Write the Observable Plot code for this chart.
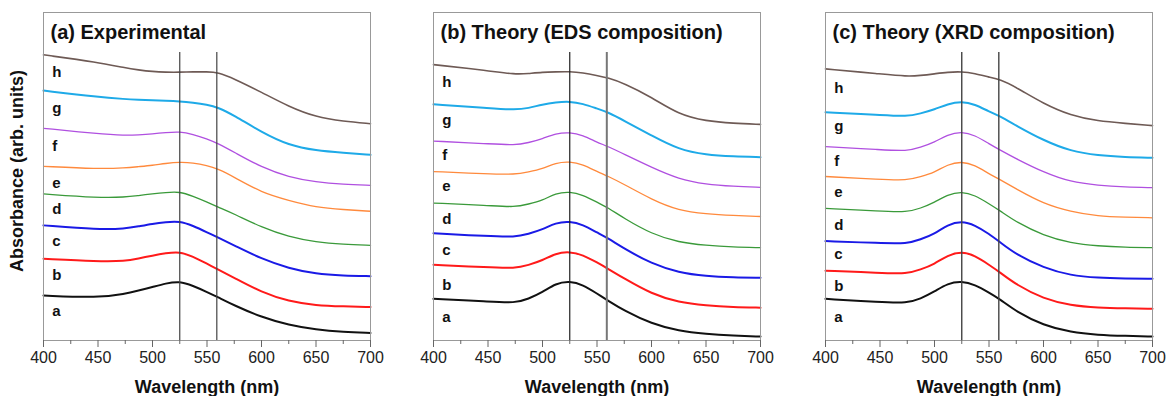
<!DOCTYPE html>
<html>
<head>
<meta charset="utf-8">
<script src="https://cdn.jsdelivr.net/npm/d3@7"></script>
<script src="https://cdn.jsdelivr.net/npm/@observablehq/plot@0.6"></script>
<style>
  html, body { margin: 0; padding: 0; background: #fff; }
  #wrap { position: relative; width: 1168px; height: 396px; font-family: "Liberation Sans", Arial, sans-serif; }
  #wrap svg { position: absolute; top: 0; overflow: visible; }
  #ylab { position: absolute; left: 17px; top: 171px; transform: translate(-50%, -50%) rotate(-90deg);
          font-weight: bold; font-size: 18px; white-space: nowrap; color: #111; }
</style>
</head>
<body>
<div id="wrap"><div id="ylab">Absorbance (arb. units)</div></div>
<script>
// ---- data (absorbance, arbitrary offset units) ----
const wavelengths = [400, 450, 475, 487, 500, 512, 525, 537, 550, 560, 575, 600, 625, 650, 675, 700];
const seriesNames = ["a", "b", "c", "d", "e", "f", "g", "h"];
const seriesColors = ["#111111", "#ff1a1a", "#1a1ae6", "#3a9a3a", "#ff8a3d", "#b050e0", "#1eaae8", "#6e5a55"];
const seriesWidths = [2, 2, 2, 1.3, 1.3, 1.3, 2, 1.6];
const xTicks = [400, 450, 500, 550, 600, 650, 700];
const xMinorTicks = [425, 475, 525, 575, 625, 675];
const markerLines = [525, 559];
const panelTitles = ["(a) Experimental", "(b) Theory (EDS composition)", "(c) Theory (XRD composition)"];

// (a) Experimental
const expA = [1.37, 1.30, 1.42, 1.52, 1.63, 1.74, 1.81, 1.67, 1.48, 1.32, 1.07, 0.71, 0.47, 0.33, 0.26, 0.23];
const expB = [2.49, 2.41, 2.42, 2.50, 2.59, 2.66, 2.71, 2.56, 2.34, 2.17, 1.91, 1.47, 1.19, 1.07, 1.04, 1.02];
const expC = [3.51, 3.38, 3.41, 3.48, 3.56, 3.61, 3.64, 3.50, 3.30, 3.14, 2.90, 2.49, 2.20, 2.03, 1.98, 1.96];
const expD = [4.47, 4.35, 4.37, 4.42, 4.47, 4.51, 4.54, 4.40, 4.22, 4.07, 3.86, 3.45, 3.16, 3.00, 2.93, 2.90];
const expE = [5.31, 5.23, 5.26, 5.30, 5.34, 5.40, 5.44, 5.42, 5.34, 5.23, 4.98, 4.51, 4.27, 4.06, 3.99, 3.94];
const expF = [6.47, 6.30, 6.25, 6.27, 6.30, 6.34, 6.37, 6.29, 6.15, 6.01, 5.74, 5.28, 4.98, 4.83, 4.76, 4.73];
const expG = [7.62, 7.42, 7.36, 7.34, 7.32, 7.31, 7.29, 7.25, 7.19, 7.11, 6.86, 6.35, 5.95, 5.79, 5.72, 5.66];
const expH = [8.71, 8.48, 8.31, 8.25, 8.20, 8.18, 8.18, 8.19, 8.19, 8.18, 7.98, 7.57, 7.13, 6.81, 6.68, 6.61];

// (b) Theory, EDS composition
const edsA = [1.27, 1.19, 1.14, 1.27, 1.47, 1.74, 1.81, 1.70, 1.43, 1.22, 0.91, 0.51, 0.29, 0.20, 0.15, 0.12];
const edsB = [2.31, 2.23, 2.20, 2.30, 2.44, 2.66, 2.71, 2.61, 2.38, 2.19, 1.89, 1.42, 1.16, 1.07, 1.02, 1.00];
const edsC = [3.27, 3.18, 3.15, 3.25, 3.38, 3.59, 3.64, 3.53, 3.29, 3.12, 2.80, 2.34, 2.07, 1.96, 1.92, 1.91];
const edsD = [4.19, 4.12, 4.06, 4.16, 4.27, 4.49, 4.54, 4.44, 4.22, 4.05, 3.72, 3.25, 2.99, 2.90, 2.85, 2.83];
const edsE = [5.15, 5.08, 5.06, 5.14, 5.23, 5.42, 5.46, 5.37, 5.15, 5.01, 4.76, 4.30, 3.96, 3.86, 3.81, 3.78];
const edsF = [6.08, 6.00, 5.95, 6.03, 6.15, 6.31, 6.35, 6.26, 6.04, 5.92, 5.68, 5.28, 4.92, 4.76, 4.70, 4.67];
const edsG = [7.20, 7.09, 7.03, 7.08, 7.20, 7.26, 7.29, 7.22, 7.07, 6.96, 6.70, 6.25, 5.82, 5.66, 5.61, 5.59];
const edsH = [8.41, 8.23, 8.11, 8.14, 8.18, 8.19, 8.20, 8.16, 8.08, 8.01, 7.84, 7.42, 6.89, 6.69, 6.62, 6.59];

// (c) Theory, XRD composition
const xrdA = [1.27, 1.17, 1.14, 1.27, 1.49, 1.74, 1.81, 1.70, 1.46, 1.26, 0.88, 0.46, 0.25, 0.17, 0.14, 0.12];
const xrdB = [2.13, 2.06, 2.03, 2.16, 2.33, 2.60, 2.71, 2.59, 2.31, 2.08, 1.70, 1.27, 1.07, 1.00, 0.98, 0.97];
const xrdC = [3.03, 2.97, 2.95, 3.08, 3.25, 3.53, 3.64, 3.52, 3.25, 3.00, 2.62, 2.22, 1.98, 1.91, 1.89, 1.88];
const xrdD = [4.03, 3.94, 3.91, 4.03, 4.21, 4.45, 4.54, 4.43, 4.17, 3.96, 3.61, 3.20, 2.97, 2.88, 2.84, 2.83];
const xrdE = [5.00, 4.91, 4.88, 4.99, 5.12, 5.37, 5.46, 5.35, 5.08, 4.91, 4.62, 4.17, 3.93, 3.79, 3.76, 3.74];
const xrdF = [5.91, 5.82, 5.77, 5.89, 6.04, 6.28, 6.37, 6.26, 6.00, 5.81, 5.54, 5.13, 4.83, 4.73, 4.68, 4.66];
const xrdG = [6.96, 6.88, 6.83, 6.92, 7.04, 7.21, 7.29, 7.20, 6.98, 6.84, 6.55, 6.10, 5.77, 5.64, 5.59, 5.57];
const xrdH = [8.28, 8.13, 8.05, 8.08, 8.13, 8.18, 8.20, 8.14, 8.03, 7.96, 7.72, 7.22, 6.86, 6.69, 6.62, 6.55];

// label levels (same units) for the a–h tags at the left of each panel
const labelLevelsExp = [0.88, 1.98, 3.02, 3.99, 4.79, 5.93, 7.07, 8.17];
const labelLevelsEds = [0.71, 1.70, 2.74, 3.69, 4.70, 5.64, 6.71, 7.88];
const labelLevelsXrd = [0.71, 1.65, 2.62, 3.51, 4.52, 5.46, 6.52, 7.70];

const panels = [
  {title: panelTitles[0], curves: [expA, expB, expC, expD, expE, expF, expG, expH], labels: labelLevelsExp,
   left: 0, width: 390, marginRight: 20, ruleColors: ["#444", "#444"], ruleWidths: [1.2, 1.2]},
  {title: panelTitles[1], curves: [edsA, edsB, edsC, edsD, edsE, edsF, edsG, edsH], labels: labelLevelsEds,
   left: 390, width: 390, marginRight: 20, ruleColors: ["#222", "#777"], ruleWidths: [1.2, 2]},
  {title: panelTitles[2], curves: [xrdA, xrdB, xrdC, xrdD, xrdE, xrdF, xrdG, xrdH], labels: labelLevelsXrd,
   left: 782, width: 386, marginRight: 16, ruleColors: ["#444", "#444"], ruleWidths: [1.4, 1.4]}
];

const wrap = document.getElementById("wrap");
const ruleTop = 8.78;

for (const p of panels) {
  const rows = [];
  p.curves.forEach((vals, i) => vals.forEach((v, j) => rows.push({series: seriesNames[i], wl: wavelengths[j], A: v})));
  const labelRows = seriesNames.map((s, i) => ({series: s, A: p.labels[i]}));
  const lineMarks = seriesNames.map((s, i) =>
    Plot.line(rows.filter(d => d.series === s), {x: "wl", y: "A", stroke: seriesColors[i], strokeWidth: seriesWidths[i], curve: "basis"}));
  const chart = Plot.plot({
    width: p.width, height: 396,
    marginLeft: 43, marginRight: p.marginRight, marginTop: 12, marginBottom: 56,
    style: {fontFamily: "Liberation Sans, Arial, sans-serif", background: "transparent"},
    x: {domain: [400, 700], label: null},
    y: {domain: [0, 10], axis: null},
    marks: [
      ...lineMarks,
      Plot.ruleX(markerLines, {x: d => d, y1: 0, y2: ruleTop, stroke: (d, i) => p.ruleColors[i], strokeWidth: (d, i) => p.ruleWidths[i]}),
      Plot.frame({stroke: "#999", strokeWidth: 1}),
      Plot.axisX(xMinorTicks, {tickSize: 4, tickFormat: () => "", stroke: "#666", label: null}),
      Plot.axisX(xTicks, {tickSize: 7, tickPadding: 4, fontSize: 16, fill: "#222", stroke: "#666", label: null}),
      Plot.text(labelRows, {x: 408, y: "A", text: "series", textAnchor: "start", fontWeight: "bold", fontSize: 15, fill: "#111"}),
      Plot.text([p.title], {frameAnchor: "top-left", dx: 7, dy: 20, lineAnchor: "middle", textAnchor: "start", fontWeight: "bold", fontSize: 20, fill: "#111"}),
      Plot.text(["Wavelength (nm)"], {frameAnchor: "bottom", dy: 47, lineAnchor: "middle", fontWeight: "bold", fontSize: 18, fill: "#111"})
    ]
  });
  chart.style.left = p.left + "px";
  wrap.appendChild(chart);
}
</script>
</body>
</html>
